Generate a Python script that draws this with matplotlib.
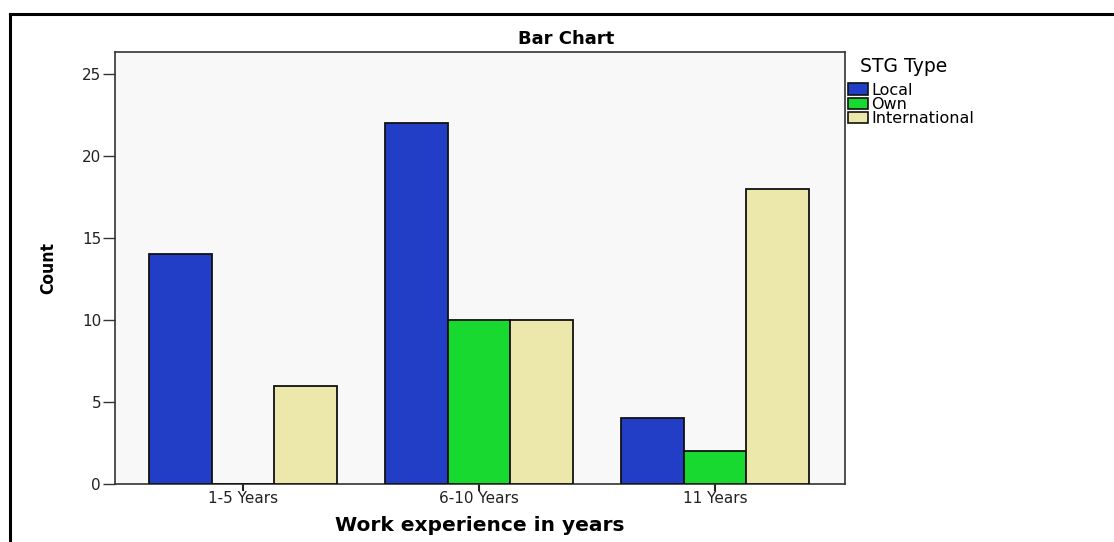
import matplotlib.pyplot as plt
import numpy as np
from matplotlib.patches import Patch
from matplotlib.lines import Line2D

categories = ['1-5 Years', '6-10 Years', '11 Years']
local = [14, 22, 4]
own = [0, 10, 2]
international = [6, 10, 18]
series_names = ['Local', 'Own', 'International']
colors = ['#233ec6', '#18d92f', '#ece8ab']

W, H = 1114, 542
fig = plt.figure(figsize=(W / 100, H / 100), dpi=100)
fig.patch.set_facecolor('white')

# plot area in pixels: left 115, right 845, top 52, bottom 484
ax = fig.add_axes([115 / W, 1 - 484 / H, (845 - 115) / W, (484 - 52) / H])
ax.set_facecolor('#f8f8f8')

x = np.arange(len(categories))
w = 0.265
for i, (vals, c) in enumerate(zip([local, own, international], colors)):
    ax.bar(x + (i - 1) * w, vals, w, color=c, edgecolor='#111111', linewidth=1.3, zorder=3)

ax.set_xlim(-0.542, 2.551)
ax.set_ylim(0, 26.34)
ax.set_yticks([0, 5, 10, 15, 20, 25])
ax.set_xticks(x)
ax.set_xticklabels(categories)
for s in ['top', 'right', 'left', 'bottom']:
    ax.spines[s].set_color('#333333')
    ax.spines[s].set_linewidth(1.2)
ax.tick_params(axis='y', length=9, width=1, color='#333333', labelsize=11, labelcolor='#222222', pad=1)
ax.tick_params(axis='x', length=5, width=1.5, color='#222222', labelsize=11, labelcolor='#222222', pad=0)
for t in ax.get_xticklabels() + ax.get_yticklabels():
    t.set_family('DejaVu Sans')

# title is centred over the whole chart, not the plot area
fig.text(566 / W, 1 - 39 / H, 'Bar Chart', ha='center', va='center',
         fontsize=13, fontweight='bold', family='DejaVu Sans')
ax.set_xlabel('Work experience in years', fontsize=14.5, fontweight='bold',
              family='DejaVu Sans', labelpad=7)
fig.text(48 / W, 1 - 268 / H, 'Count', rotation=90, ha='center', va='center',
         fontsize=12.5, fontweight='bold', fontstretch='condensed',
         family=['Liberation Sans Narrow', 'DejaVu Sans Condensed', 'DejaVu Sans'])

# legend
fig.text(860 / W, 1 - 67 / H, 'STG Type', fontsize=13.5, va='center', family='DejaVu Sans')
handles = [Patch(facecolor=c, edgecolor='#111111', linewidth=1.2) for c in colors]
leg = fig.legend(handles, series_names, loc='upper left', bbox_to_anchor=(838 / W, 1 - 73 / H),
                 frameon=False, handlelength=1.3, handleheight=0.7,
                 handletextpad=0.2, labelspacing=-0.05, borderpad=0.1,
                 prop={'family': 'DejaVu Sans', 'size': 11.5})

# outer border (open at right and bottom)
fig.add_artist(Line2D([9.5 / W, 1], [1 - 14 / H, 1 - 14 / H], color='black', linewidth=2.2))
fig.add_artist(Line2D([9.5 / W, 9.5 / W], [0, 1 - 14 / H], color='black', linewidth=2.2))

fig.savefig('out.png', dpi=100)
